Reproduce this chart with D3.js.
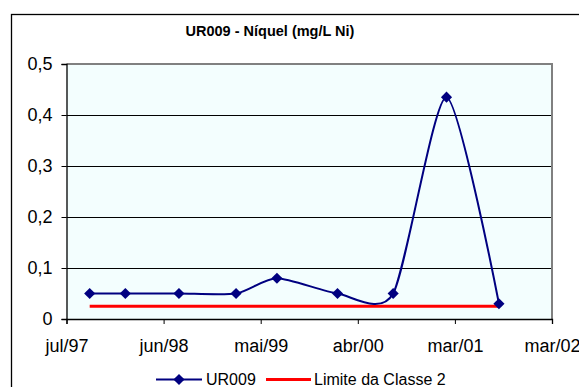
<!DOCTYPE html>
<html>
<head>
<meta charset="utf-8">
<script src="https://cdn.jsdelivr.net/npm/d3@7"></script>
<style>
  html, body { margin: 0; padding: 0; background: #ffffff; }
  svg { display: block; font-family: "Liberation Sans", Arial, sans-serif; }
</style>
</head>
<body>
<svg id="chart" width="579" height="387"></svg>
<script>
// ---- data ----
const sampleDates = ["1997-09-19", "1998-01-20", "1998-07-24", "1999-02-06", "1999-06-27",
                     "2000-01-22", "2000-08-01", "2001-02-01", "2001-08-01"];
const ur009Values = [0.05, 0.05, 0.05, 0.05, 0.08, 0.05, 0.05, 0.435, 0.03];
const limitValues = [0.025, 0.025, 0.025, 0.025, 0.025, 0.025, 0.025, 0.025, 0.025];
const xTickDates = ["1997-07-01", "1998-06-01", "1999-05-02", "2000-04-01", "2001-03-02", "2002-01-31"];
const xTickLabels = ["jul/97", "jun/98", "mai/99", "abr/00", "mar/01", "mar/02"];
const yTicks = [0, 0.1, 0.2, 0.3, 0.4, 0.5];
const yTickLabels = ["0", "0,1", "0,2", "0,3", "0,4", "0,5"];
const titleText = "UR009 - Níquel (mg/L Ni)";
const seriesNames = ["UR009", "Limite da Classe 2"];

// ---- layout ----
const parse = d3.utcParse("%Y-%m-%d");
const svg = d3.select("#chart");
const plot = { left: 66.5, right: 552, top: 64, bottom: 319 };

const x = d3.scaleUtc()
  .domain([parse(xTickDates[0]), parse(xTickDates[xTickDates.length - 1])])
  .range([plot.left, plot.right]);
const y = d3.scaleLinear().domain([0, 0.5]).range([plot.bottom, plot.top]);

// outer chart border
svg.append("rect")
  .attr("x", 11.5).attr("y", 14.5)
  .attr("width", 600).attr("height", 400)
  .attr("fill", "#ffffff").attr("stroke", "#000000").attr("stroke-width", 1.3);

// plot area background
svg.append("rect")
  .attr("x", plot.left).attr("y", plot.top)
  .attr("width", plot.right - plot.left).attr("height", plot.bottom - plot.top)
  .attr("fill", "#F3FEFE");

// gridlines
svg.append("g").selectAll("line")
  .data(yTicks.filter(v => v > 0 && v < 0.5))
  .join("line")
  .attr("x1", plot.left).attr("x2", plot.right)
  .attr("y1", d => Math.round(y(d)) + 0.5).attr("y2", d => Math.round(y(d)) + 0.5)
  .attr("stroke", "#000000").attr("stroke-width", 1);

// plot border (top/right gray)
svg.append("path")
  .attr("d", `M${plot.left},${plot.top} H${plot.right} V${plot.bottom}`)
  .attr("fill", "none").attr("stroke", "#808080").attr("stroke-width", 2);

// y axis
const yAxis = d3.axisLeft(y)
  .tickValues(yTicks)
  .tickSize(5)
  .tickPadding(9)
  .tickFormat((d, i) => yTickLabels[i]);
const gy = svg.append("g").attr("transform", `translate(${plot.left},0)`).call(yAxis);
gy.select(".domain").attr("stroke", "#000").attr("stroke-width", 1.3);
gy.selectAll(".tick line").attr("stroke", "#000");
gy.selectAll(".tick text").attr("font-size", "18px").attr("fill", "#000")
  .attr("font-family", "Liberation Sans, Arial, sans-serif");

// x axis
const xAxis = d3.axisBottom(x)
  .tickValues(xTickDates.map(parse))
  .tickSize(5)
  .tickPadding(0)
  .tickFormat((d, i) => xTickLabels[i]);
const gx = svg.append("g").attr("transform", `translate(0,${plot.bottom})`).call(xAxis);
gx.select(".domain").attr("stroke", "#000").attr("stroke-width", 1.3);
gx.selectAll(".tick line").attr("stroke", "#000");
gx.selectAll(".tick text").attr("font-size", "18px").attr("fill", "#000")
  .attr("font-family", "Liberation Sans, Arial, sans-serif")
  .attr("dy", null).attr("y", 33);

// limit line
const limitData = sampleDates.map((d, i) => ({ date: parse(d), v: limitValues[i] }));
svg.append("path")
  .datum(limitData)
  .attr("fill", "none").attr("stroke", "#FF0000").attr("stroke-width", 3.2)
  .attr("d", d3.line().x(d => x(d.date)).y(d => y(d.v)));

// UR009 series
const urData = sampleDates.map((d, i) => ({ date: parse(d), v: ur009Values[i] }));
svg.append("path")
  .datum(urData)
  .attr("fill", "none").attr("stroke", "#000080").attr("stroke-width", 2)
  .attr("d", d3.line().curve(d3.curveCardinal.tension(0.3)).x(d => x(d.date)).y(d => y(d.v)));

const diamond = d3.symbol().type(d3.symbolSquare).size(62);
svg.append("g").selectAll("path")
  .data(urData)
  .join("path")
  .attr("d", diamond)
  .attr("transform", d => `translate(${x(d.date)},${y(d.v)}) rotate(45)`)
  .attr("fill", "#000080");

// title
svg.append("text")
  .attr("x", 270).attr("y", 36)
  .attr("text-anchor", "middle")
  .attr("font-size", "14.5px").attr("font-weight", "bold")
  .attr("fill", "#000")
  .text(titleText);

// legend
const lg = svg.append("g");
lg.append("line").attr("x1", 156).attr("x2", 202).attr("y1", 379.5).attr("y2", 379.5)
  .attr("stroke", "#000080").attr("stroke-width", 2);
lg.append("path").attr("d", diamond).attr("transform", "translate(179,379.5) rotate(45)")
  .attr("fill", "#000080");
lg.append("text").attr("x", 206).attr("y", 384.5).attr("font-size", "16px").attr("fill", "#000")
  .text(seriesNames[0]);
lg.append("line").attr("x1", 266).attr("x2", 311).attr("y1", 379.5).attr("y2", 379.5)
  .attr("stroke", "#FF0000").attr("stroke-width", 3.2);
lg.append("text").attr("x", 314).attr("y", 384.5).attr("font-size", "16px").attr("fill", "#000")
  .text(seriesNames[1]);
</script>
</body>
</html>
